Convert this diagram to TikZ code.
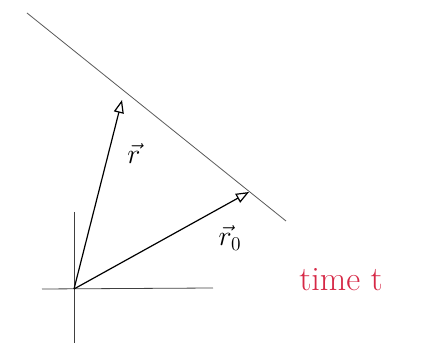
\documentclass[tikz,border=0pt]{standalone}
\usetikzlibrary{arrows.meta,positioning}
\definecolor{inkred}{RGB}{214,40,70}
\tikzset{
  axis/.style     = {draw, black!75, line width=0.8pt},
  trace/.style    = {draw, black!65, line width=0.8pt},
  vecarrow/.style = {-{Triangle[open,length=13pt,width=10pt]}, line width=1.2pt},
  lbl/.style      = {font=\huge, scale=1.35},
}
\begin{document}
\begin{tikzpicture}[x=1pt,y=-1pt]
\useasboundingbox (0,0) rectangle (432,347);
% axes
\coordinate (O) at (74,289);
\coordinate (xl) at (42,289);
\coordinate (xr) at (213,288);
\coordinate (yt) at (74,212);
\coordinate (yb) at (74,343);
\draw[axis] (xl) -- (xr);
\draw[axis] (yt) -- (yb);
% line of positions
\coordinate (la) at (27,13);
\coordinate (lb) at (286,221);
\draw[trace] (la) -- (lb);
% position vectors
\coordinate (rtip) at (122,100);
\coordinate (r0tip) at (249,192);
\draw[vecarrow] (O) -- (rtip);
\draw[vecarrow] (O) -- (r0tip);
\node[lbl] (rlbl) at (134,154) {$\vec r$};
\node[lbl] (r0lbl) at (230,238) {$\vec r_0$};
\node[inkred, font=\huge, scale=1.65] (time) at (341,280) {time t};
\end{tikzpicture}
\end{document}
